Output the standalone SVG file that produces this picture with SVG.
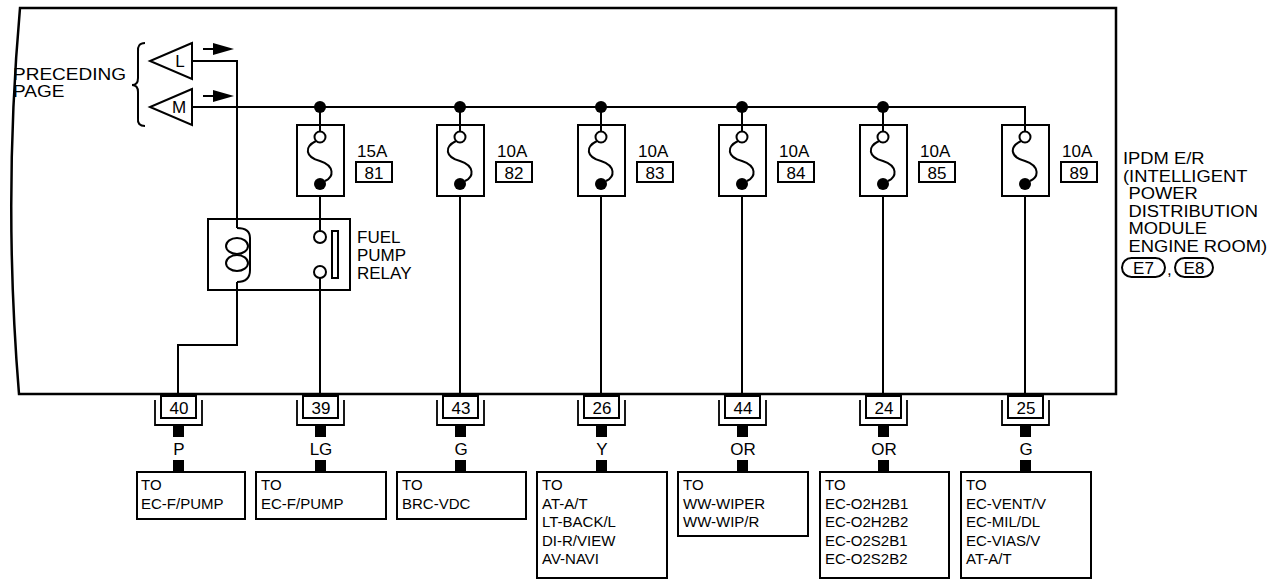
<svg xmlns="http://www.w3.org/2000/svg" width="1280" height="581" viewBox="0 0 1280 581">
<style>
.w{fill:none;stroke:#000;stroke-width:2}
.b{fill:none;stroke:#000;stroke-width:2}
.t{font-family:"Liberation Sans",Arial,sans-serif;font-size:17px;fill:#000}
.s{font-family:"Liberation Sans",Arial,sans-serif;font-size:15px;fill:#000}
.c{text-anchor:middle}
.dot{fill:#000}
</style>
<defs>
<g id="fuse">
<rect x="-23" y="125" width="47" height="71" class="b"/>
<line x1="0" y1="107" x2="0" y2="131.5" class="w"/>
<circle cx="0" cy="137" r="5.5" fill="#fff" stroke="#000" stroke-width="2"/>
<path d="M-4,141 C-16,147 -15,157 0,161 C15,166 14,177 5,181" class="w"/>
<circle cx="0" cy="184" r="6" class="dot"/>
</g>
<g id="conn">
<rect x="-17" y="396" width="35" height="22" class="b" stroke-width="1.6"/>
<path d="M-23,400 V425 H24 V400" fill="none" stroke="#000" stroke-width="1.8"/>
<rect x="-5" y="425" width="11" height="12" fill="#000"/>
<rect x="-5" y="460" width="11" height="12" fill="#000"/>
</g>
</defs>

<g id="enclosure">
<path d="M20,8 H1116 V394 H19 Q3,200 20,8 Z" fill="none" stroke="#000" stroke-width="2.5"/>
</g>

<g id="preceding">
<g transform="translate(13,0) scale(1.12,1)">
<text class="t" x="0" y="80">PRECEDING</text>
<text class="t" x="0" y="97.5">PAGE</text>
</g>
<path d="M145,43 Q137,43 138,52 V78 Q138,85 132,85 Q138,85 138,92 V118 Q137,126 145,126" class="w"/>
</g>

<g id="conn-L">
<path d="M192,43 L150,61 L192,79 Z" fill="#fff" stroke="#000" stroke-width="2"/>
<text class="t c" x="180" y="67">L</text>
<line x1="203" y1="49" x2="215" y2="49" class="w"/>
<path d="M213,43 L234,49 L213,55 Z" fill="#000"/>
</g>
<g id="conn-M">
<path d="M192,89 L150,107 L192,125 Z" fill="#fff" stroke="#000" stroke-width="2"/>
<text class="t c" x="179" y="113">M</text>
<line x1="203" y1="96" x2="215" y2="96" class="w"/>
<path d="M213,90 L234,96 L213,102 Z" fill="#000"/>
</g>

<g id="connectors">
<path d="M192,61 H237 V228" class="w"/>
<path d="M237,282 V345 H178 V394" class="w"/>
<path d="M192,107 H1025 V125" class="w"/>
<path d="M320,196 V231" class="w"/>
<path d="M320,278 V394" class="w"/>
<path d="M460,196 V394" class="w"/>
<path d="M601,196 V394" class="w"/>
<path d="M742,196 V394" class="w"/>
<path d="M883,196 V394" class="w"/>
<path d="M1025,196 V394" class="w"/>
<circle cx="320" cy="107" r="6" class="dot"/>
<circle cx="460" cy="107" r="6" class="dot"/>
<circle cx="601" cy="107" r="6" class="dot"/>
<circle cx="742" cy="107" r="6" class="dot"/>
<circle cx="883" cy="107" r="6" class="dot"/>
</g>

<g id="fuse81"><use href="#fuse" x="320"/><text class="t" x="357" y="157">15A</text><rect x="356" y="162" width="36" height="20" class="b" stroke-width="1.6"/><text class="t c" x="374" y="178.5">81</text></g>
<g id="fuse82"><use href="#fuse" x="460"/><text class="t" x="497" y="157">10A</text><rect x="496" y="162" width="36" height="20" class="b" stroke-width="1.6"/><text class="t c" x="514" y="178.5">82</text></g>
<g id="fuse83"><use href="#fuse" x="601"/><text class="t" x="638" y="157">10A</text><rect x="637" y="162" width="36" height="20" class="b" stroke-width="1.6"/><text class="t c" x="655" y="178.5">83</text></g>
<g id="fuse84"><use href="#fuse" x="742"/><text class="t" x="779" y="157">10A</text><rect x="778" y="162" width="36" height="20" class="b" stroke-width="1.6"/><text class="t c" x="796" y="178.5">84</text></g>
<g id="fuse85"><use href="#fuse" x="883"/><text class="t" x="920" y="157">10A</text><rect x="919" y="162" width="36" height="20" class="b" stroke-width="1.6"/><text class="t c" x="937" y="178.5">85</text></g>
<g id="fuse89"><use href="#fuse" x="1025"/><text class="t" x="1062" y="157">10A</text><rect x="1061" y="162" width="36" height="20" class="b" stroke-width="1.6"/><text class="t c" x="1079" y="178.5">89</text></g>

<g id="relay">
<rect x="208" y="219" width="142" height="71" class="b"/>
<path d="M237,228 Q250,228 250,238 V270 Q250,282 237,282" class="w"/>
<ellipse cx="237" cy="246" rx="11" ry="8" class="w"/>
<ellipse cx="237" cy="263" rx="11" ry="8" class="w"/>
<circle cx="320" cy="237" r="6" fill="#fff" stroke="#000" stroke-width="2"/>
<circle cx="320" cy="272" r="6" fill="#fff" stroke="#000" stroke-width="2"/>
<rect x="332" y="231" width="6" height="47" class="b" stroke-width="1.8"/>
<text class="t" x="357" y="243">FUEL</text>
<text class="t" x="357" y="261">PUMP</text>
<text class="t" x="357" y="279">RELAY</text>
</g>

<g id="ipdm">
<g transform="translate(1123,0) scale(1.08,1)">
<text class="t" x="0" y="164">IPDM E/R</text>
<text class="t" x="0" y="181.6">(INTELLIGENT</text>
<text class="t" x="5" y="199.2">POWER</text>
<text class="t" x="5" y="216.8">DISTRIBUTION</text>
<text class="t" x="5" y="234.4">MODULE</text>
<text class="t" x="5" y="252">ENGINE ROOM)</text>
</g>
<rect x="1122" y="258" width="43" height="19" rx="9.5" class="b"/>
<text class="t c" x="1143.5" y="273.5">E7</text>
<text class="t" x="1167" y="275">,</text>
<rect x="1175" y="258" width="38" height="19" rx="9.5" class="b"/>
<text class="t c" x="1194" y="273.5">E8</text>
</g>

<g id="c40"><use href="#conn" x="178"/><text class="t c" x="179" y="413.5">40</text><text class="t c" x="179" y="455">P</text>
<rect x="137" y="472" width="108" height="47" class="b"/><text class="s" x="141" y="490">TO</text><text class="s" x="141" y="509">EC-F/PUMP</text></g>
<g id="c39"><use href="#conn" x="320"/><text class="t c" x="321" y="413.5">39</text><text class="t c" x="321" y="455">LG</text>
<rect x="256" y="472" width="130" height="47" class="b"/><text class="s" x="261" y="490">TO</text><text class="s" x="261" y="509">EC-F/PUMP</text></g>
<g id="c43"><use href="#conn" x="460"/><text class="t c" x="461" y="413.5">43</text><text class="t c" x="461" y="455">G</text>
<rect x="397" y="472" width="129" height="47" class="b"/><text class="s" x="402" y="490">TO</text><text class="s" x="402" y="509">BRC-VDC</text></g>
<g id="c26"><use href="#conn" x="601"/><text class="t c" x="602" y="413.5">26</text><text class="t c" x="602" y="455">Y</text>
<rect x="537" y="472" width="130" height="106" class="b"/><text class="s" x="542" y="490">TO</text><text class="s" x="542" y="508.5">AT-A/T</text><text class="s" x="542" y="527">LT-BACK/L</text><text class="s" x="542" y="545.5">DI-R/VIEW</text><text class="s" x="542" y="564">AV-NAVI</text></g>
<g id="c44"><use href="#conn" x="742"/><text class="t c" x="743" y="413.5">44</text><text class="t c" x="743" y="455">OR</text>
<rect x="678" y="472" width="130" height="64" class="b"/><text class="s" x="683" y="490">TO</text><text class="s" x="683" y="508.5">WW-WIPER</text><text class="s" x="683" y="527">WW-WIP/R</text></g>
<g id="c24"><use href="#conn" x="883"/><text class="t c" x="884" y="413.5">24</text><text class="t c" x="884" y="455">OR</text>
<rect x="820" y="472" width="129" height="106" class="b"/><text class="s" x="825" y="490">TO</text><text class="s" x="825" y="508.5">EC-O2H2B1</text><text class="s" x="825" y="527">EC-O2H2B2</text><text class="s" x="825" y="545.5">EC-O2S2B1</text><text class="s" x="825" y="564">EC-O2S2B2</text></g>
<g id="c25"><use href="#conn" x="1025"/><text class="t c" x="1026" y="413.5">25</text><text class="t c" x="1026" y="455">G</text>
<rect x="961" y="472" width="130" height="106" class="b"/><text class="s" x="966" y="490">TO</text><text class="s" x="966" y="508.5">EC-VENT/V</text><text class="s" x="966" y="527">EC-MIL/DL</text><text class="s" x="966" y="545.5">EC-VIAS/V</text><text class="s" x="966" y="564">AT-A/T</text></g>
</svg>
